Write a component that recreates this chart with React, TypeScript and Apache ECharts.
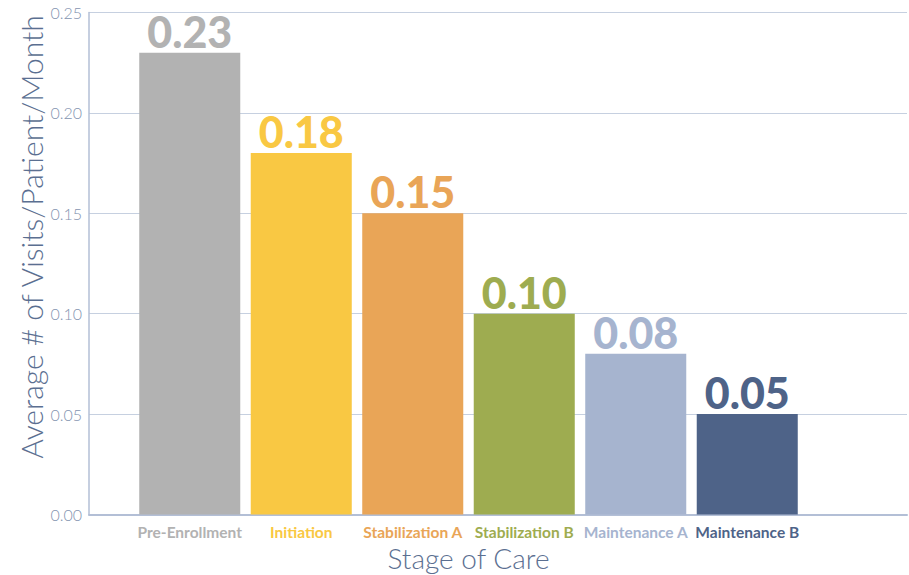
import React, { useEffect, useRef } from "react";
import * as echarts from "echarts";

const categories = ["Pre-Enrollment", "Initiation", "Stabilization A", "Stabilization B", "Maintenance A", "Maintenance B"];
const values = [0.23, 0.18, 0.15, 0.10, 0.08, 0.05];
const colors = ["#b2b2b2", "#f9c843", "#e9a557", "#9eac50", "#a6b4cf", "#4e6388"];
const yTicks = { min: 0, max: 0.25, interval: 0.05 };

export default function App() {
  const ref = useRef<HTMLDivElement>(null);
  useEffect(() => {
    const chart = echarts.init(ref.current!, null, { renderer: "svg" });
    const top = 12.5;
    const bottom = 60.5;
    chart.setOption({
      animation: false,
      textStyle: { fontFamily: "Lato" },
      grid: [
        { left: 89, right: 2, top, bottom, containLabel: false, outerBoundsMode: "none" },
        { left: 134, width: 669, top, bottom, containLabel: false, outerBoundsMode: "none" },
      ],
      xAxis: [
        {
          gridIndex: 0, type: "value", min: 0, max: 1,
          axisLine: { show: true, lineStyle: { color: "#b3bfd6", width: 2 } },
          axisTick: { show: false }, axisLabel: { show: false }, splitLine: { show: false },
        },
        {
          gridIndex: 1, type: "category", data: categories,
          axisLine: { show: false }, axisTick: { show: false },
          axisLabel: {
            interval: 0, margin: 9,
            fontFamily: "Lato", fontWeight: "bold", fontSize: 15.5,
            formatter: (v: string) => `{c${categories.indexOf(v)}|${v}}`,
            rich: Object.fromEntries(colors.map((c, i) => [`c${i}`, { color: c, fontFamily: "Lato", fontWeight: "bold", fontSize: 15.5 }])),
          },
          name: "Stage of Care", nameLocation: "middle", nameGap: 28,
          nameTextStyle: { fontFamily: "Lato", fontWeight: 300, fontSize: 28, color: "#5b6f91" },
        },
      ],
      yAxis: [
        {
          gridIndex: 0, type: "value", ...yTicks,
          axisLine: { show: true, lineStyle: { color: "#b3bfd6", width: 1.5 } },
          axisTick: { show: false },
          axisLabel: {
            fontFamily: "Lato", fontWeight: 300, fontSize: 16, color: "#8494b0", margin: 7,
            formatter: (v: number) => v.toFixed(2),
          },
          splitLine: { show: true, lineStyle: { color: "#c6d0e0", width: 1.2 } },
        },
        {
          gridIndex: 1, type: "value", ...yTicks, show: false,
        },
      ],
      graphic: [
        {
          type: "text", x: 31, y: 237, rotation: Math.PI / 2,
          style: {
            text: "Average # of Visits/Patient/Month", fontFamily: "Lato", fontWeight: 300, fontSize: 30,
            fill: "#5b6f91", align: "center", verticalAlign: "middle",
          },
        },
      ],
      series: [
        {
          type: "bar", xAxisIndex: 1, yAxisIndex: 1,
          barCategoryGap: "9.4%",
          data: values.map((v, i) => ({
            value: v,
            itemStyle: { color: colors[i] },
            label: { color: colors[i] },
          })),
          label: {
            show: true, position: "top", distance: 0,
            fontFamily: "Lato", fontWeight: 900, fontSize: 43,
            formatter: (p: any) => p.value.toFixed(2),
          },
        },
      ],
    });
    return () => chart.dispose();
  }, []);
  return <div ref={ref} style={{ width: 909, height: 575, position: "absolute", left: 0, top: 0 }} />;
}
